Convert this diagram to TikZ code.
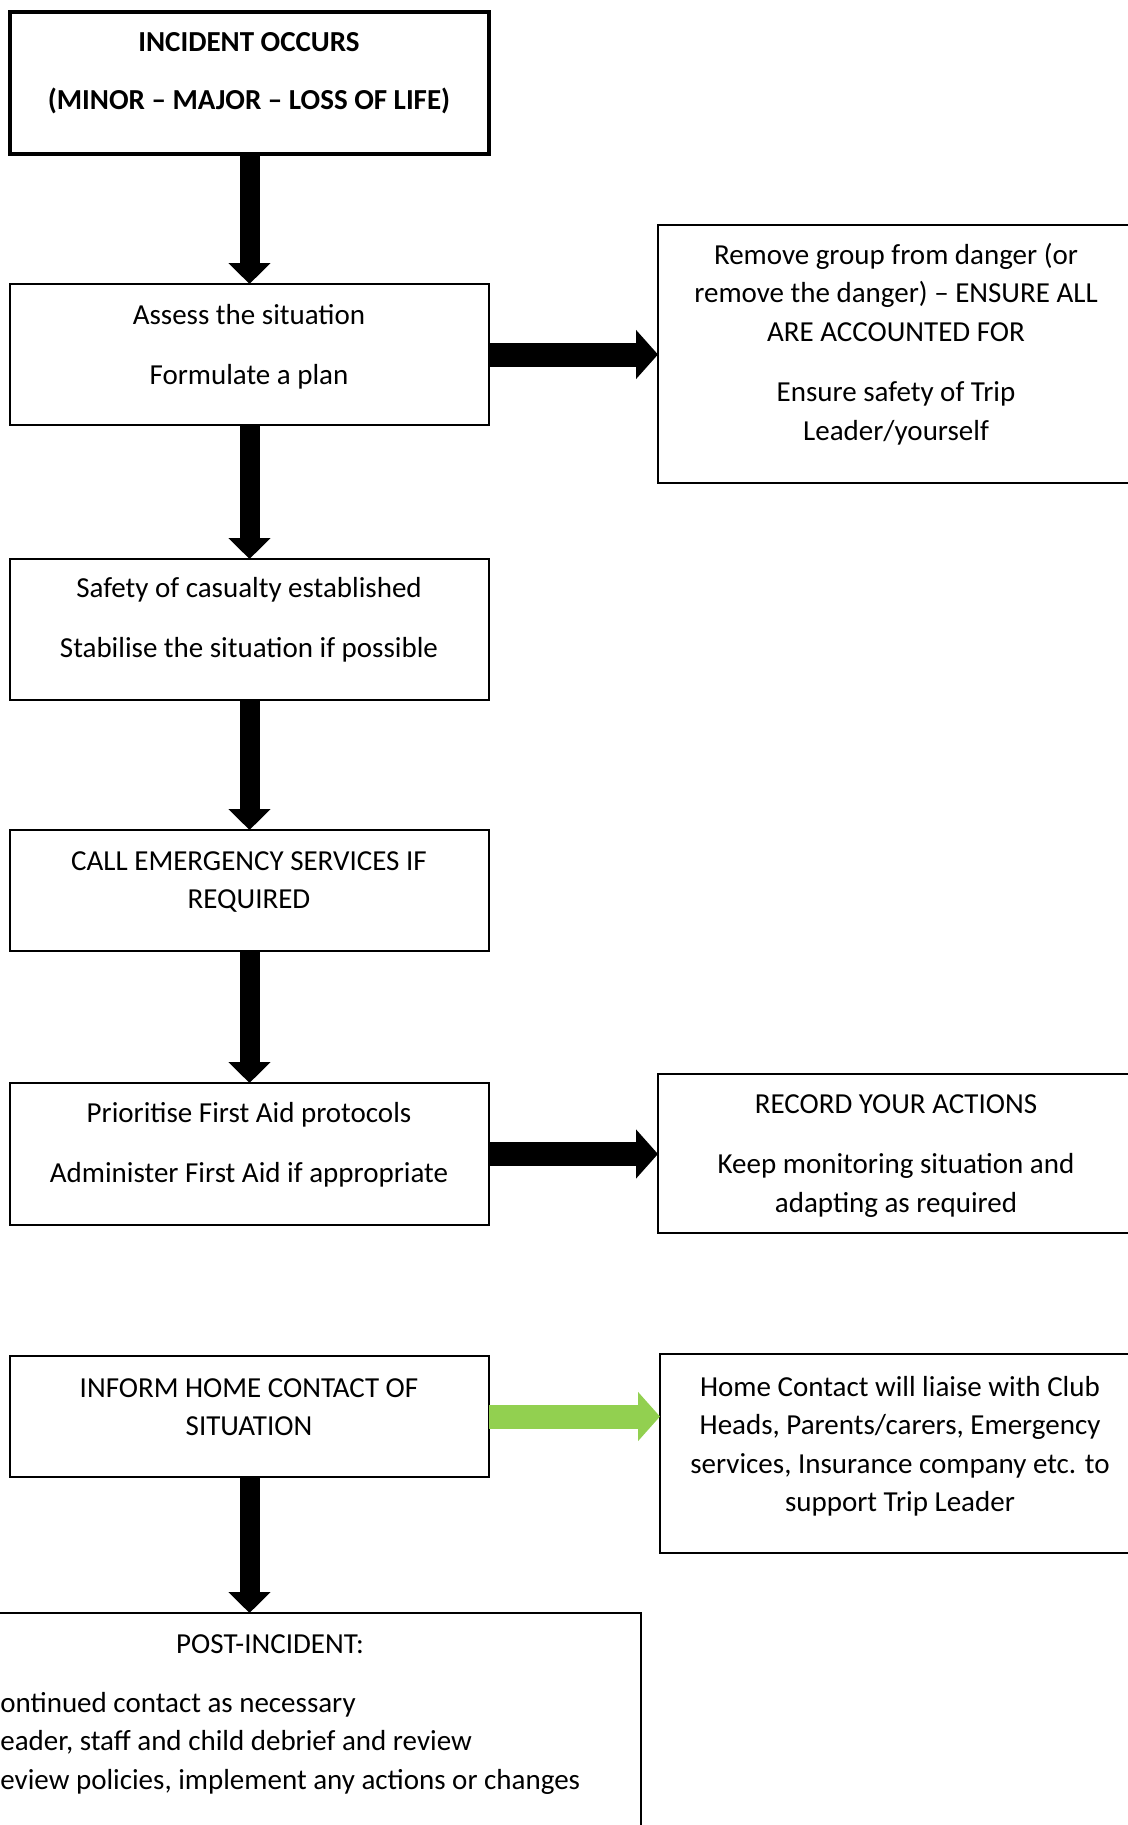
\documentclass[tikz,border=0pt]{standalone}
\usepackage{fontspec}
\setmainfont{Carlito}
\usepackage{tikz}
\usetikzlibrary{arrows.meta}

\definecolor{homegreen}{HTML}{92D050}

\tikzset{
  box/.style={draw, line width=1pt, anchor=north west, inner sep=0pt, outer sep=0pt},
  txt/.style={align=center, inner sep=0pt, font=\fontsize{14.5}{19.25}\selectfont},
  down/.style={line width=10pt, -{Triangle[length=10.5pt,width=20.5pt]}},
  across/.style={line width=12pt, -{Triangle[length=11pt,width=24pt]}}
}

\begin{document}
\begin{tikzpicture}[x=0.5pt,y=-0.5pt]
\useasboundingbox (0,0) rectangle (1128,1825);
\clip (0,0) rectangle (1128,1825);

\node[box, line width=2pt, minimum width=239.5pt, minimum height=71pt] (b1) at (10,12) {};
\node[txt, font=\fontsize{14.5}{19.25}\selectfont\bfseries] (t1) at (249,73) {INCIDENT OCCURS\\[10pt](MINOR – MAJOR – LOSS OF LIFE)};

\node[box, minimum width=239.5pt, minimum height=70.5pt] (b2) at (10,284) {};
\node[txt] (t2) at (249,347) {Assess the situation\\[10.75pt]Formulate a plan};

\node[box, minimum width=238pt, minimum height=129pt] (r1) at (658,225) {};
\node[txt] (t3) at (896,344) {Remove group from danger (or\\remove the danger) – ENSURE ALL\\ARE ACCOUNTED FOR\\[11pt]Ensure safety of Trip\\Leader/yourself};

\node[box, minimum width=239.5pt, minimum height=70.5pt] (b3) at (10,559) {};
\node[txt] (t4) at (249,620) {Safety of casualty established\\[10.75pt]Stabilise the situation if possible};

\node[box, minimum width=239.5pt, minimum height=60.5pt] (b4) at (10,830) {};
\node[txt] (t5) at (249,882) {CALL EMERGENCY SERVICES IF\\REQUIRED};

\node[box, minimum width=239.5pt, minimum height=71pt] (b5) at (10,1083) {};
\node[txt] (t6) at (249,1145) {Prioritise First Aid protocols\\[10.75pt]Administer First Aid if appropriate};

\node[box, minimum width=238pt, minimum height=79.5pt] (r2) at (658,1074) {};
\node[txt] (t7) at (896,1156) {RECORD YOUR ACTIONS\\[10.75pt]Keep monitoring situation and\\adapting as required};

\node[box, minimum width=239.5pt, minimum height=60.5pt] (b6) at (10,1356) {};
\node[txt] (t8) at (249,1407) {INFORM HOME CONTACT OF\\SITUATION};

\node[box, minimum width=240pt, minimum height=99.5pt] (r3) at (660,1354) {};
\node[txt] (t9) at (900,1446) {Home Contact will liaise with Club\\Heads, Parents/carers, Emergency\\services, Insurance company etc. to\\support Trip Leader};

\node[box, minimum width=371pt, minimum height=160pt] (b7) at (-101,1613) {};
\node[txt] (t10) at (270,1644) {POST-INCIDENT:};
\node[txt, align=left, anchor=west] (t11) at (0,1743) {ontinued contact as necessary\\eader, staff and child debrief and review\\eview policies, implement any actions or changes};

\draw[down] (b1) -- (b2);
\draw[down] (b2) -- (b3);
\draw[down] (b3) -- (b4);
\draw[down] (b4) -- (b5);
\draw[down] (b6.south) -- (b6.south |- b7.north);
\draw[across] (b2.east) -- (b2.east -| r1.west);
\draw[across] (b5.east) -- (b5.east -| r2.west);
\draw[across, homegreen] (b6.east) -- (b6.east -| r3.west);

\end{tikzpicture}
\end{document}
